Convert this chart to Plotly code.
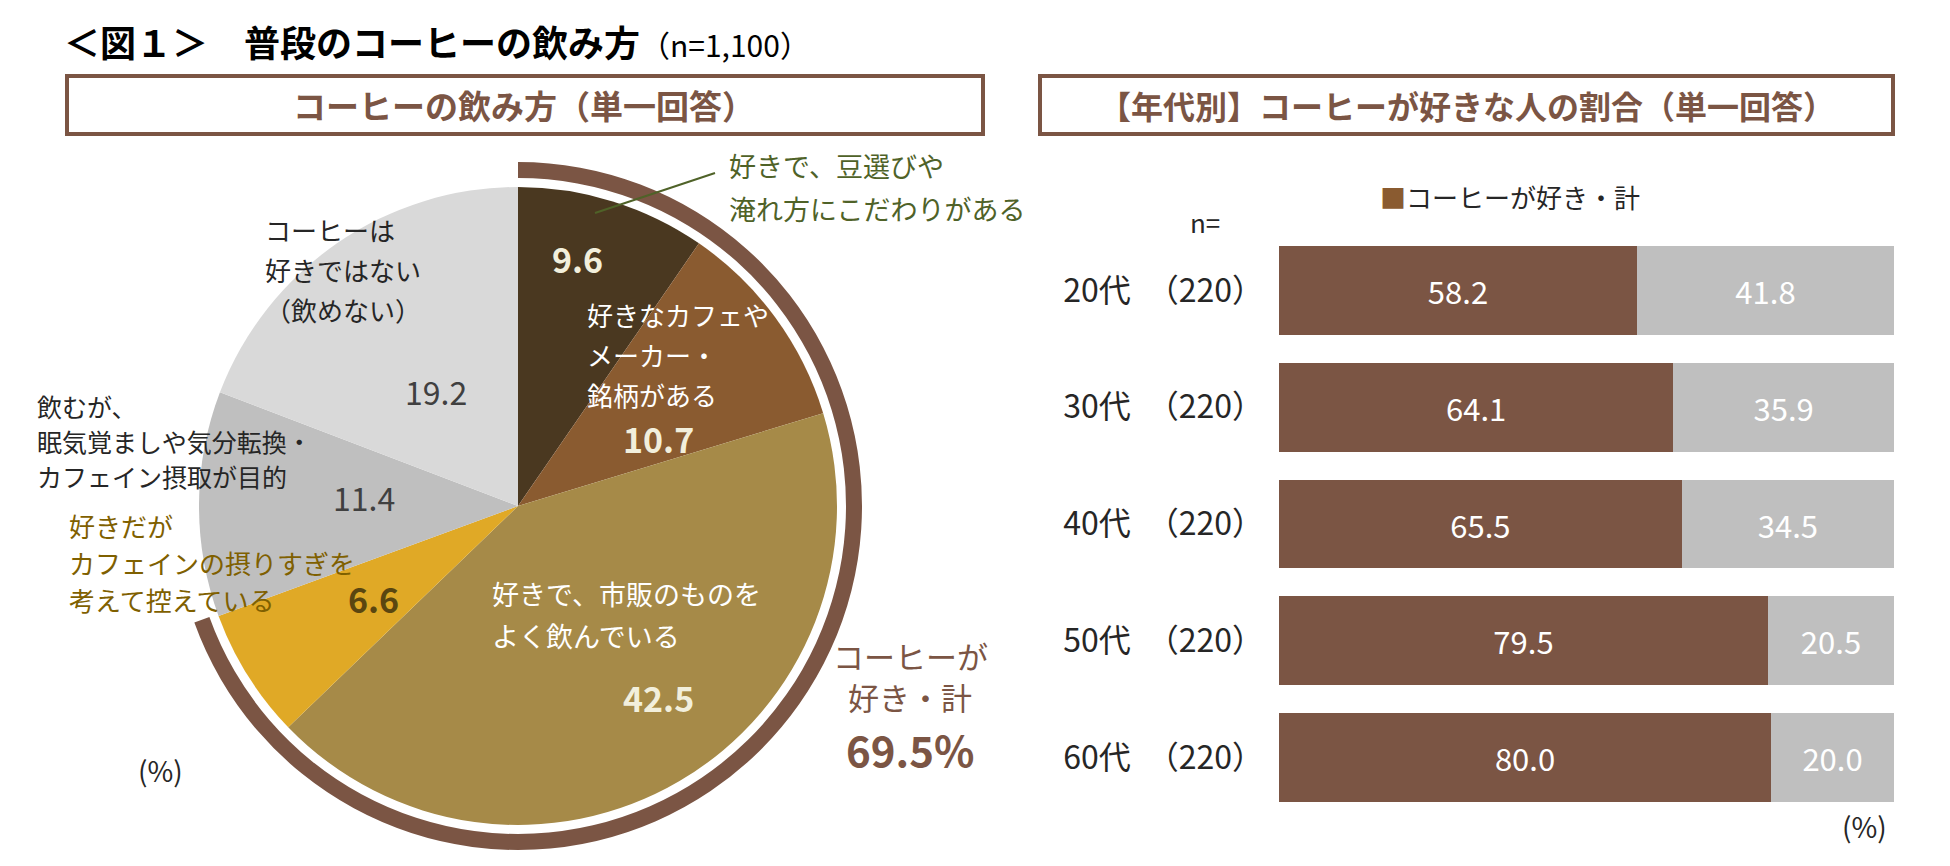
import plotly.graph_objects as go

# ---- data ----
pie_labels = [
    "好きで、豆選びや\n淹れ方にこだわりがある",
    "好きなカフェや\nメーカー・\n銘柄がある",
    "好きで、市販のものを\nよく飲んでいる",
    "好きだが\nカフェインの摂りすぎを\n考えて控えている",
    "飲むが、\n眠気覚ましや気分転換・\nカフェイン摂取が目的",
    "コーヒーは\n好きではない\n（飲めない）",
]
pie_values = [9.6, 10.7, 42.5, 6.6, 11.4, 19.2]
like_total = 69.5

ages = ["20代", "30代", "40代", "50代", "60代"]
age_n = [220, 220, 220, 220, 220]
like_share = [58.2, 64.1, 65.5, 79.5, 80.0]
other_share = [41.8, 35.9, 34.5, 20.5, 20.0]

# ---- styles ----
W, H = 1950, 866
FONT = "Noto Sans CJK JP"
BROWN = "#7B5544"
GRAY = "#BFBFBF"
pie_colors = ["#4A3820", "#8A5B30", "#A68A48", "#E0A926", "#BFBFBF", "#D9D9D9"]


def px(x):
    return x / W


def py(y):
    return 1 - y / H


fig = go.Figure()

# pie (center 518,506 r=319) and the outer "like" ring
cx, cy, r = 518, 506, 319
fig.add_trace(go.Pie(
    values=pie_values, labels=[l.replace("\n", "") for l in pie_labels],
    sort=False, direction="clockwise", rotation=0,
    marker=dict(colors=pie_colors, line=dict(width=0)),
    textinfo="none", hoverinfo="label+value", showlegend=False,
    domain=dict(x=[px(cx - r), px(cx + r)], y=[py(cy + r), py(cy - r)]),
))
R = 344
fig.add_trace(go.Pie(
    values=[like_total, 100 - like_total], labels=["コーヒーが好き・計", "その他"],
    sort=False, direction="clockwise", rotation=0, hole=328 / R,
    marker=dict(colors=[BROWN, "rgba(0,0,0,0)"], line=dict(width=0)),
    textinfo="none", hoverinfo="skip", showlegend=False,
    domain=dict(x=[px(cx - R), px(cx + R)], y=[py(cy + R), py(cy - R)]),
))

# stacked bars
fig.add_trace(go.Bar(
    y=ages, x=like_share, orientation="h", marker=dict(color=BROWN, line=dict(width=0)),
    text=[f"{v:.1f}" for v in like_share], textposition="inside", insidetextanchor="middle",
    textfont=dict(family=FONT, size=31, color="white"), showlegend=False,
))
fig.add_trace(go.Bar(
    y=ages, x=other_share, orientation="h", marker=dict(color=GRAY, line=dict(width=0)),
    text=[f"{v:.1f}" for v in other_share], textposition="inside", insidetextanchor="middle",
    textfont=dict(family=FONT, size=31, color="white"), showlegend=False,
))

annotations = []


def add_text(text, x, y, size, color, anchor="left", bold=False):
    if bold:
        text = f"<b>{text}</b>"
    annotations.append(dict(
        text=text, x=px(x), y=py(y), xref="paper", yref="paper",
        xanchor=anchor, yanchor="middle", showarrow=False,
        font=dict(family=FONT, size=size, color=color)))


# pie labels: (x, first line y, line step, color, size)
label_pos = [
    (727, 165, 44, "#4F6228", 27),
    (585, 314, 40, "white", 26),
    (490, 593, 42, "white", 27),
    (67, 525, 37, "#7F6000", 26),
    (35, 406, 35, "#262626", 25),
    (263, 230, 40, "#262626", 26),
]
for lab, (x, y, step, col, size) in zip(pie_labels, label_pos):
    for i, line in enumerate(lab.split("\n")):
        add_text(line, x, y + i * step, size, col)

# pie values: (x center, y, color, bold)
value_pos = [
    (577, 258, "#F2EFDC", True),
    (658, 438, "#F2EFDC", True),
    (658, 697, "#F2EFDC", True),
    (373, 598, "#5A4610", True),
    (364, 497, "#404040", False),
    (436, 391, "#404040", False),
]
for v, (x, y, col, b) in zip(pie_values, value_pos):
    add_text(f"{v:.1f}", x, y, 34 if b else 32, col, anchor="center", bold=b)

add_text("コーヒーが", 910, 655, 31, BROWN, anchor="center")
add_text("好き・計", 910, 696, 31, BROWN, anchor="center")
add_text(f"{like_total:.1f}%", 910, 748, 42, BROWN, anchor="center", bold=True)
add_text("(%)", 160, 770, 28, "#262626", anchor="center")

# titles
annotations.append(dict(
    text="<b>＜図１＞　普段のコーヒーの飲み方</b><span style='font-size:30px'>（n=1,100）</span>",
    x=px(62), y=py(41), xref="paper", yref="paper", xanchor="left", yanchor="middle",
    showarrow=False, font=dict(family=FONT, size=36, color="#000000")))
add_text("コーヒーの飲み方（単一回答）", 524, 105, 33, BROWN, anchor="center", bold=True)
add_text("【年代別】コーヒーが好きな人の割合（単一回答）", 1467, 105, 32, BROWN, anchor="center", bold=True)

# right chart extras
add_text(f"<span style='color:#8A5B30'>■</span>コーヒーが好き・計", 1378, 196, 26, "#262626")
add_text("n=", 1205, 221, 26, "#262626", anchor="center")
add_text("(%)", 1864, 826, 28, "#262626", anchor="center")

shapes = [
    dict(type="rect", xref="paper", yref="paper", x0=px(67), x1=px(983), y0=py(76), y1=py(134),
         line=dict(color=BROWN, width=4)),
    dict(type="rect", xref="paper", yref="paper", x0=px(1040), x1=px(1893), y0=py(76), y1=py(134),
         line=dict(color=BROWN, width=4)),
    dict(type="line", xref="paper", yref="paper", x0=px(715), y0=py(173), x1=px(595), y1=py(213),
         line=dict(color="#4F6228", width=2)),
]

fig.update_layout(
    width=W, height=H, margin=dict(l=0, r=0, t=0, b=0),
    paper_bgcolor="white", plot_bgcolor="white",
    barmode="stack", bargap=0.24,
    font=dict(family=FONT, color="#262626"),
    xaxis=dict(domain=[px(1279), px(1894)], range=[0, 100], visible=False, fixedrange=True),
    yaxis=dict(domain=[py(816), py(232)], autorange="reversed", tickvals=ages,
               ticktext=[f"{a}　（{n}）" for a, n in zip(ages, age_n)],
               tickfont=dict(family=FONT, size=32, color="#262626"),
               showgrid=False, zeroline=False, showline=False, ticks="", ticklabelstandoff=14),
    annotations=annotations, shapes=shapes,
)

fig.write_html("out.html", config={"displayModeBar": False},
               post_script="document.body.style.margin='0';")
